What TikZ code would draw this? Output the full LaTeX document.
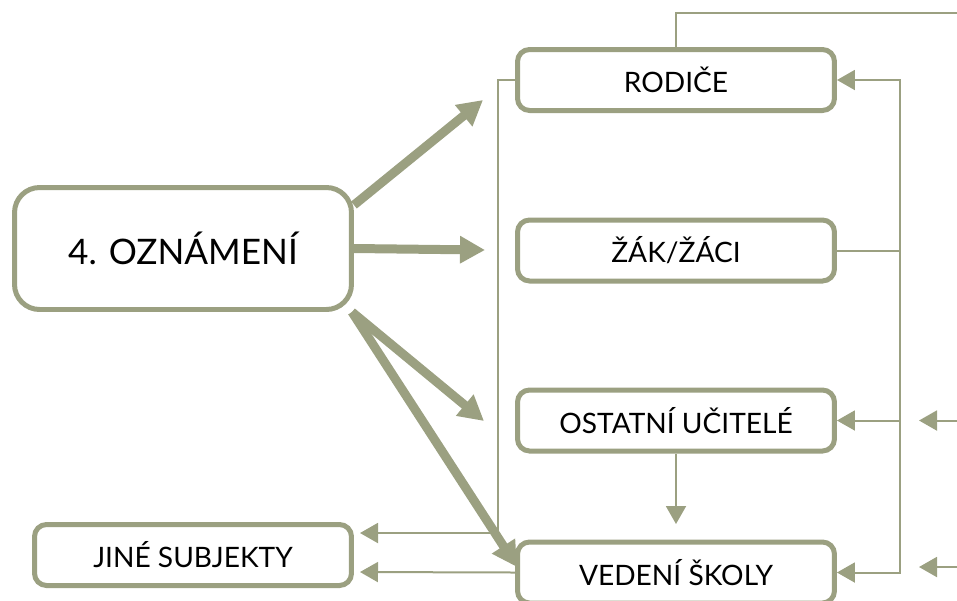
\documentclass[tikz,border=0pt]{standalone}
\usepackage{fontspec}
\setmainfont{Lato}
\usepackage{tikz}
\usetikzlibrary{positioning}
\usetikzlibrary{calc}
\usetikzlibrary{arrows.meta}
\definecolor{oliv}{HTML}{9BA081}
\tikzset{
	box/.style = {rectangle, draw=oliv, line width=0.1cm, rounded corners=0.24cm, fill=white,
		minimum width=6.34cm, minimum height=1.22cm, font=\fontsize{16}{18}\selectfont, align=center},
	bigbox/.style = {box, rounded corners=0.5cm, minimum width=6.74cm, minimum height=2.44cm,
		font=\fontsize{20}{23}\selectfont},
	fat/.style = {draw=oliv, line width=0.18cm, -{Triangle[length=0.5cm,width=0.52cm]}},
	slim/.style = {draw=oliv, line width=0.04cm, -{Triangle[length=0.36cm,width=0.4cm]}},
	plain/.style = {draw=oliv, line width=0.04cm}
}

\begin{document}
\begin{tikzpicture}[x=0.02cm, y=-0.02cm]
					\useasboundingbox (0,0) rectangle (957,600);

					\node (oz) [bigbox] at (183,248.5) {4. OZNÁMENÍ};
					\node (rodice) [box] at (676,80) {RODIČE};
					\node (zak) [box] at (676,250.5) {ŽÁK/ŽÁCI};
					\node (ostatni) [box] at (676,420.5) {OSTATNÍ UČITELÉ};
					\node (vedeni) [box] at (676,572.5) {VEDENÍ ŠKOLY};
					\node (jine) [box] at (193,555) {JINÉ SUBJEKTY};

					% loose ends
					\coordinate (t1) at (483,100);
					\coordinate (t2) at (485,250);
					\coordinate (t3) at (484,421);
					\coordinate (t4) at (517,567);
					\coordinate (j1) at (360,533);
					\coordinate (j2) at (360,572);
					\coordinate (bus) at (900,250.5);
					\coordinate (top) at (957,13);
					\coordinate (r1) at (957,420.5);
					\coordinate (r1t) at (919,420.5);
					\coordinate (r2) at (957,567);
					\coordinate (r2t) at (919,567);
					\coordinate (down) at (676,524);

					\draw[fat] ([yshift=-0.4cm]oz.north east) -- (t1);
					\draw[fat] (oz.east) -- (t2);
					\draw[fat] ([xshift=-0.04cm]oz.south east) -- (t3);
					\draw[fat] ([xshift=-0.04cm]oz.south east) -- (t4);

					\draw[slim] (rodice.west) -- ++(-17,0) |- (j1);
					\draw[slim] (vedeni.west) -- (j2);
					\draw[plain] (rodice.north) |- (top);
					\draw[slim] (zak.east) -- (bus) |- (rodice.east);
					\draw[slim] (bus) |- (ostatni.east);
					\draw[slim] (bus) |- (vedeni.east);
					\draw[slim] (r1) -- (r1t);
					\draw[slim] (r2) -- (r2t);
					\draw[slim] (ostatni.south) -- (down);
				\end{tikzpicture}
\end{document}
